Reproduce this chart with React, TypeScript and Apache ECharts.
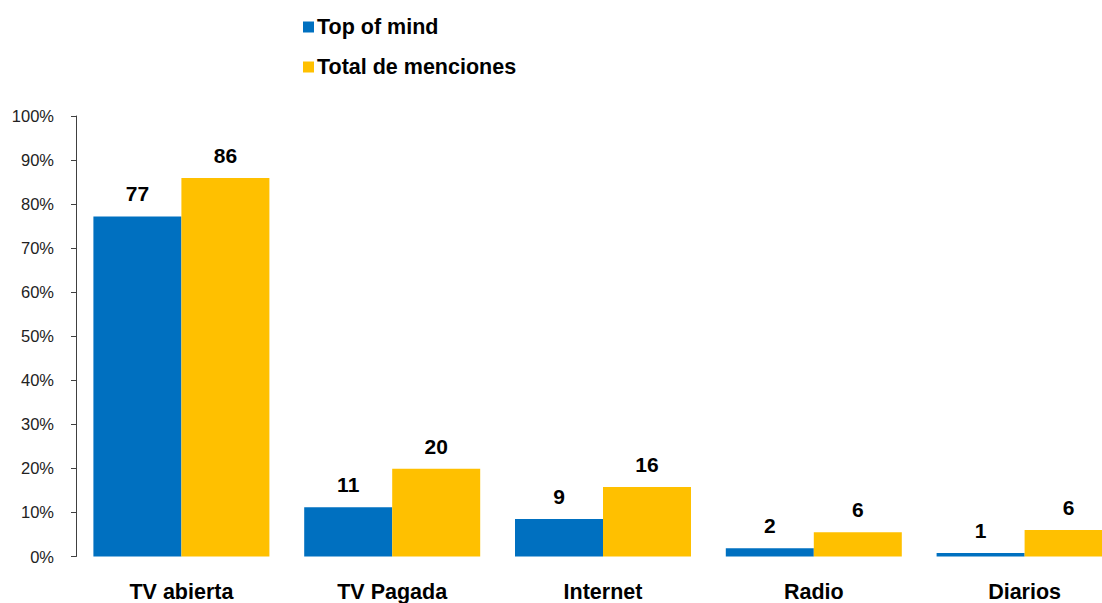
import React, { useEffect, useRef } from "react";
import * as echarts from "echarts";

const categories = ["TV abierta", "TV Pagada", "Internet", "Radio", "Diarios"];
const topOfMind = [77.2, 11.2, 8.5, 1.9, 0.8];
const totalMenciones = [85.9, 19.9, 15.8, 5.5, 6.0];
const yTicks = [0, 10, 20, 30, 40, 50, 60, 70, 80, 90, 100];

export default function App() {
  const ref = useRef<HTMLDivElement>(null);
  useEffect(() => {
    if (!ref.current) return;
    document.body.style.overflow = "hidden";
    const chart = echarts.init(ref.current, undefined, { renderer: "svg" });
    const font = "'Liberation Sans', Arial, sans-serif";
    const label = {
      show: true,
      position: "top" as const,
      distance: 12,
      fontFamily: font,
      fontWeight: "bold" as const,
      fontSize: 21,
      color: "#000",
      formatter: (p: any) => String(Math.round(p.value)),
    };
    chart.setOption({
      animation: false,
      backgroundColor: "#fff",
      textStyle: { fontFamily: font },
      legend: {
        orient: "vertical",
        left: 298,
        top: 11,
        itemWidth: 11,
        itemHeight: 11,
        itemGap: 18,
        icon: "rect",
        textStyle: { fontFamily: font, fontSize: 21.5, fontWeight: "bold", color: "#000", padding: [0, 0, 0, -2] },
        data: ["Top of mind", "Total de menciones"],
      },
      grid: { left: 76, right: 10, top: 116, bottom: 603 - 556.5, containLabel: false },
      xAxis: {
        type: "category",
        data: categories,
        axisLine: { show: false },
        axisTick: { show: false },
        axisLabel: { margin: 24, fontFamily: font, fontWeight: "bold", fontSize: 21.5, color: "#000" },
      },
      yAxis: {
        type: "value",
        min: yTicks[0],
        max: yTicks[yTicks.length - 1],
        interval: 10,
        axisLine: { show: true, lineStyle: { color: "#404040", width: 1 } },
        axisTick: { show: true, inside: false, length: 5, lineStyle: { color: "#404040" } },
        splitLine: { show: false },
        axisLabel: { margin: 22, fontFamily: font, fontSize: 16.5, color: "#222", formatter: "{value}%" },
      },
      series: [
        {
          name: "Top of mind",
          type: "bar",
          data: topOfMind,
          barWidth: 88,
          barGap: "0%",
          itemStyle: { color: "#0070C0" },
          label,
        },
        {
          name: "Total de menciones",
          type: "bar",
          data: totalMenciones,
          barWidth: 88,
          barGap: "0%",
          itemStyle: { color: "#FFC000" },
          label,
        },
      ],
    });
    return () => chart.dispose();
  }, []);
  return (
    <div
      ref={ref}
      style={{ position: "fixed", left: 0, top: 0, width: 1140, height: 603 }}
    />
  );
}
